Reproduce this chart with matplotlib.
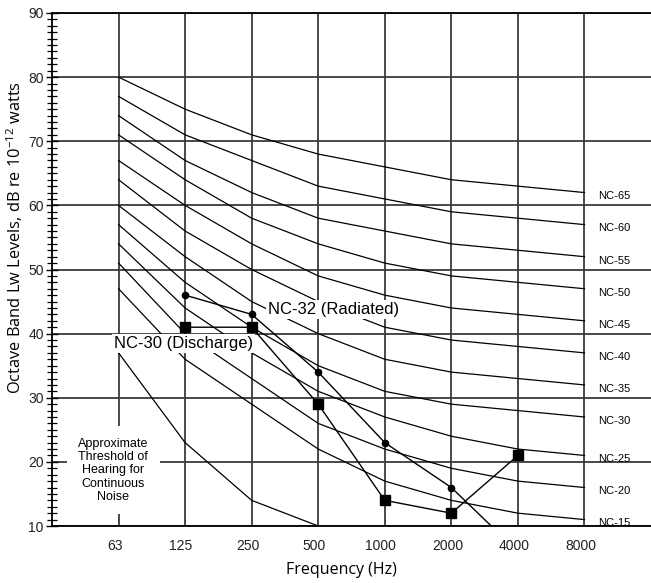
import matplotlib
matplotlib.use("Agg")
import matplotlib.pyplot as plt
import matplotlib.transforms as mtransforms
from matplotlib.ticker import MultipleLocator

plt.rcParams['mathtext.fontset'] = 'custom'
plt.rcParams['mathtext.rm'] = 'Open Sans'
plt.rcParams['mathtext.it'] = 'Open Sans'

bands = ["63", "125", "250", "500", "1000", "2000", "4000", "8000"]

nc_names = ["NC-65", "NC-60", "NC-55", "NC-50", "NC-45", "NC-40",
            "NC-35", "NC-30", "NC-25", "NC-20", "NC-15"]
nc65 = [80, 75, 71, 68, 66, 64, 63, 62]
nc60 = [77, 71, 67, 63, 61, 59, 58, 57]
nc55 = [74, 67, 62, 58, 56, 54, 53, 52]
nc50 = [71, 64, 58, 54, 51, 49, 48, 47]
nc45 = [67, 60, 54, 49, 46, 44, 43, 42]
nc40 = [64, 56, 50, 45, 41, 39, 38, 37]
nc35 = [60, 52, 45, 40, 36, 34, 33, 32]
nc30 = [57, 48, 41, 35, 31, 29, 28, 27]
nc25 = [54, 44, 37, 31, 27, 24, 22, 21]
nc20 = [51, 40, 33, 26, 22, 19, 17, 16]
nc15 = [47, 36, 29, 22, 17, 14, 12, 11]
nc_curves = [nc65, nc60, nc55, nc50, nc45, nc40, nc35, nc30, nc25, nc20, nc15]

threshold_bands = ["63", "125", "250", "500"]
threshold = [37, 23, 14, 10]

radiated_bands = ["125", "250", "500", "1000", "2000", "4000"]
radiated = [46, 43, 34, 23, 16, 6]

discharge_bands = ["125", "250", "500", "1000", "2000", "4000"]
discharge = [41, 41, 29, 14, 12, 21]

pos = {b: i for i, b in enumerate(bands)}
ARIAL = ['Liberation Sans', 'DejaVu Sans']
HUMAN = ['Open Sans', 'DejaVu Sans']

fig = plt.figure(figsize=(6.51, 5.83), dpi=100)
ax = fig.add_axes([52/651, 1-526/583, 599/651, 513/583])

ax.set_xlim(-1, 8)
ax.set_ylim(10, 90)
ax.set_xticks(range(len(bands)))
ax.set_xticklabels(bands)
ax.yaxis.set_major_locator(MultipleLocator(10))
ax.yaxis.set_minor_locator(MultipleLocator(1))

ax.grid(True, which='major', color='#3a3a3a', lw=1.3, zorder=1)
ax.set_axisbelow(True)

ax.tick_params(axis='x', length=0, pad=9)
ax.tick_params(axis='y', which='major', direction='inout', length=8, width=1, pad=2)
ax.tick_params(axis='y', which='minor', direction='inout', length=7, width=0.9)

shift = mtransforms.ScaledTranslation(-4/100, 0, fig.dpi_scale_trans)
for tick in ax.xaxis.get_major_ticks():
    tick.label1.set_transform(tick.label1.get_transform() + shift)
for lab in ax.get_xticklabels() + ax.get_yticklabels():
    lab.set_family(ARIAL)
    lab.set_fontsize(10)
    lab.set_color('#222222')

for s in ['left', 'bottom', 'top']:
    ax.spines[s].set_color('black')
    ax.spines[s].set_linewidth(1.3)
ax.spines['right'].set_visible(False)

xs = list(range(len(bands)))
for name, vals in zip(nc_names, nc_curves):
    ax.plot(xs, vals, color='black', lw=0.9, zorder=2)
    ax.text(7.2, vals[-1] - 0.6, name, fontsize=8, family=ARIAL,
            ha='left', va='center', color='black', zorder=3)

ax.plot([pos[b] for b in threshold_bands], threshold, color='black', lw=0.9, zorder=2)

ax.plot([pos[b] for b in radiated_bands], radiated, color='black', lw=1.0,
        marker='o', markersize=4.5, zorder=4)
ax.plot([pos[b] for b in discharge_bands], discharge, color='black', lw=1.0,
        marker='s', markersize=7, zorder=4)

box = dict(facecolor='white', edgecolor='none', boxstyle='square,pad=0.12')
ax.text(2.25, 43.7, "NC-32 (Radiated)", fontsize=12, family=ARIAL,
        ha='left', va='center', bbox=box, zorder=3)
ax.text(0.98, 38.4, "NC-30 (Discharge)", fontsize=12, family=ARIAL,
        ha='center', va='center', bbox=box, zorder=3)
ax.text(-0.08, 18.7, "Approximate\nThreshold of\nHearing for\nContinuous\nNoise",
        fontsize=9, family=ARIAL, ha='center', va='center',
        linespacing=1.15, multialignment='center',
        bbox=dict(facecolor='white', edgecolor='none', boxstyle='square,pad=0.9'), zorder=3)

ax.set_xlabel("Frequency (Hz)", fontsize=11.5, family=HUMAN, va='center', ha='center')
ax.xaxis.set_label_coords(0.4825, -0.0858)
ax.set_ylabel("Octave Band Lw Levels, dB re 10$^{-12}$ watts", fontsize=11.8,
              family=HUMAN, va='center', ha='center')
ax.yaxis.set_label_coords(-0.0618, 0.563)

fig.savefig("out.png", dpi=100)
